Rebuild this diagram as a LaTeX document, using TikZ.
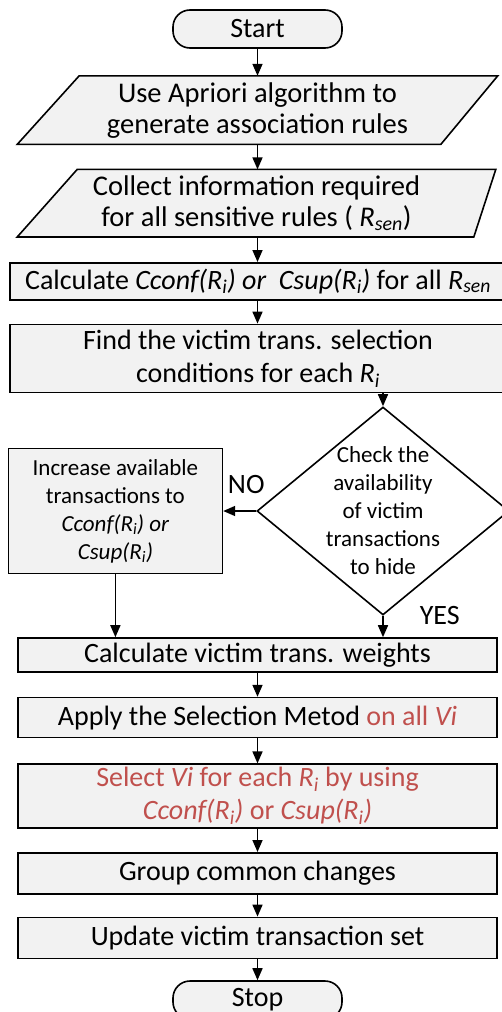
\documentclass[tikz,border=0pt]{standalone}
\usepackage{fontspec}
\setmainfont{Carlito}
\usepackage{xcolor}
\usetikzlibrary{arrows.meta,positioning,shapes.geometric,backgrounds}
\definecolor{boxgray}{HTML}{F2F2F2}
\definecolor{accred}{HTML}{C0504D}

\begin{document}
\begin{tikzpicture}[
  x=1pt, y=-1pt, line width=1.6pt,
  node distance=24pt,
  term/.style={draw, rounded corners=17pt, fill=boxgray, inner sep=0pt,
               minimum width=169pt, minimum height=38pt, font=\fontsize{28}{32}\selectfont},
  io/.style={align=center, inner sep=0pt, font=\fontsize{28.5}{31}\selectfont},
  slant/.style={draw, fill=boxgray, line width=1.6pt, line join=miter},
  proc/.style={draw, fill=boxgray, align=center, inner sep=0pt,
               minimum width=479pt, font=\fontsize{28}{33}\selectfont},
  wide/.style={proc, minimum width=496pt},
  dec/.style={draw, diamond, inner sep=0pt, minimum width=252pt, minimum height=208pt},
  sml/.style={align=center, inner sep=0pt, font=\fontsize{23}{28}\selectfont},
  lbl/.style={font=\fontsize{28}{32}\selectfont, inner sep=0pt},
  arr/.style={-{Triangle[length=12pt,width=10pt]}}
]
\useasboundingbox (0,0) rectangle (502,1012);
\clip (0,0) rectangle (502,1012);

% upper column
\node[term] (start) at (257.5,29) {Start};
\node[io, below=27pt of start, minimum width=479pt, minimum height=67pt] (apri)
  {Use Apriori algorithm to\\generate association rules};
\node[io, below=25pt of apri, xshift=-1pt, minimum width=477pt, minimum height=66pt] (info)
  {Collect information required\\for all sensitive rules ( \textit{R\textsubscript{sen}})};
\node[wide, below=25pt of info, xshift=1.5pt, minimum height=37pt] (cconf)
  {Calculate \textit{Cconf(R\textsubscript{i}) or\ \ Csup(R\textsubscript{i})} for all \textit{R\textsubscript{sen}}};
\node[wide, below=23pt of cconf, minimum height=68pt] (find)
  {Find the victim trans. selection\\conditions for each \textit{R\textsubscript{i}}};

% slanted input boxes
\begin{scope}[on background layer]
\draw[slant] ([xshift=62pt]apri.north west) -- (apri.north east)
  -- ([xshift=-57pt]apri.south east) -- (apri.south west) -- cycle;
\draw[slant] ([xshift=60pt]info.north west) -- (info.north east)
  -- ([xshift=-22pt]info.south east) -- (info.south west) -- cycle;
\end{scope}

% decision and its branch
\node[dec] (chk) at (383,511) {};
\node[sml] (chktxt) at (chk) {Check the\\availability\\of victim\\transactions\\to hide};
\node[draw, fill=boxgray, sml, minimum width=214pt, minimum height=125pt, left=33pt of chk] (inc)
  {Increase available\\transactions to\\\textit{Cconf(R\textsubscript{i}) or}\\\textit{Csup(R\textsubscript{i})}};

% lower column
\node[proc, minimum height=34pt] (calcw) at (257.5,655) {Calculate victim trans. weights};
\node[proc, below=24pt of calcw, minimum height=40pt] (apply)
  {Apply the Selection Metod \textcolor{accred}{on all \textit{Vi}}};
\node[proc, below=25pt of apply, minimum height=64pt, text=accred] (sel)
  {Select \textit{Vi} for each \textit{R\textsubscript{i}} by using\\\textit{Cconf(R\textsubscript{i})} or \textit{Csup(R\textsubscript{i})}};
\node[proc, below=23pt of sel, minimum height=41pt] (group) {Group common changes};
\node[proc, below=22pt of group, minimum height=41pt] (upd) {Update victim transaction set};
\node[term, below=21pt of upd] (stop) {Stop};

\draw[arr] (start) -- (start |- apri.north);
\draw[arr] (start |- apri.south) -- (start |- info.north);
\draw[arr] (start |- info.south) -- (start |- cconf.north);
\draw[arr] (start |- cconf.south) -- (start |- find.north);
\draw[arr] (chk.north |- find.south) -- (chk.north);
\draw[arr] (chk.west) -- node[lbl, pos=0.3, above=17pt] {NO} (inc.east);
\draw[arr] (chk.south) -- node[lbl, pos=0, right=36pt] {YES} (chk.south |- calcw.north);
\draw[arr] (inc.south) -- (inc.south |- calcw.north);
\draw[arr] (calcw) -- (apply);
\draw[arr] (apply) -- (sel);
\draw[arr] (sel) -- (group);
\draw[arr] (group) -- (upd);
\draw[arr] (upd) -- (stop);
\end{tikzpicture}
\end{document}
